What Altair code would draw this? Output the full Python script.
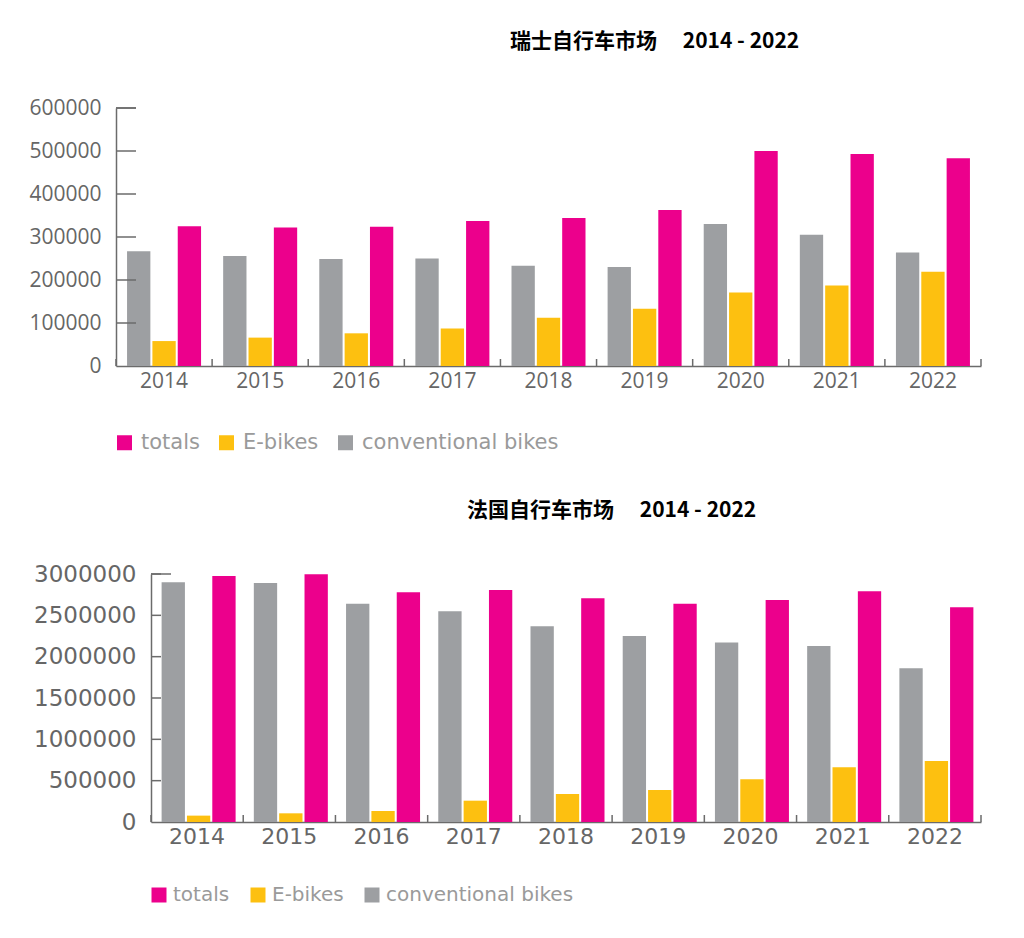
import altair as alt
import pandas as pd

# shared categories
years = ["2014", "2015", "2016", "2017", "2018", "2019", "2020", "2021", "2022"]
series = ["totals", "E-bikes", "conventional bikes"]
bar_order = ["conventional bikes", "E-bikes", "totals"]
colors = ["#EC008C", "#FDC010", "#9D9FA2"]

# Switzerland
ch_totals = [325000, 322000, 324000, 337000, 344000, 363000, 500000, 493000, 483000]
ch_ebikes = [58000, 66000, 76000, 87000, 112000, 133000, 171000, 187000, 219000]
ch_conv = [267000, 256000, 249000, 250000, 233000, 230000, 330000, 305000, 264000]
ch_ticks = [100000, 200000, 300000, 400000, 500000, 600000]

# France
fr_totals = [2976000, 2996000, 2780000, 2806000, 2706000, 2640000, 2685000, 2790000, 2597000]
fr_ebikes = [77000, 105000, 133000, 258000, 339000, 387000, 516000, 661000, 738000]
fr_conv = [2900000, 2890000, 2640000, 2550000, 2367000, 2250000, 2170000, 2129000, 1859000]
fr_ticks = [500000, 1000000, 1500000, 2000000, 2500000, 3000000]

AXIS = "#6b6b6b"
W = 865  # both panels share the same group width, the lower one starts further right


def long_df(totals, ebikes, conv):
    rows = []
    for i, y in enumerate(years):
        rows.append({"year": y, "series": "totals", "value": totals[i]})
        rows.append({"year": y, "series": "E-bikes", "value": ebikes[i]})
        rows.append({"year": y, "series": "conventional bikes", "value": conv[i]})
    return pd.DataFrame(rows)


def panel(df, title, title_dx, x0, h, ymax, yticks, tick_len, top_len, font,
          xlab_size, ylab_size, lab_pad, y_extent, leg_x, leg_y, leg_size, leg_off,
          leg_gap, title_off):
    step = (W - x0) / len(years)
    xscale = alt.Scale(type="band", paddingInner=0.23, paddingOuter=0.115, range=[x0, W])
    yscale = alt.Scale(domain=[0, ymax], nice=False)
    x_axis = alt.Axis(title=None, ticks=False, labelAngle=0, domainColor=AXIS,
                      domainWidth=1.5, labelFont=font, labelFontSize=xlab_size,
                      labelColor="#666666", labelPadding=lab_pad)
    y_axis = alt.Axis(title=None, values=[0] + yticks, ticks=False, grid=False,
                      domainColor=AXIS, domainWidth=1.5, labelFont=font,
                      labelFontSize=ylab_size, labelColor="#666666", offset=-x0,
                      labelPadding=15, minExtent=y_extent, format="d")

    bars = alt.Chart(df).mark_bar().encode(
        x=alt.X("year:N", sort=years, scale=xscale, axis=x_axis),
        xOffset=alt.XOffset("series:N", sort=bar_order,
                            scale=alt.Scale(paddingInner=0.08, paddingOuter=0)),
        y=alt.Y("value:Q", scale=yscale, axis=y_axis),
        color=alt.Color("series:N", scale=alt.Scale(domain=series, range=colors),
                        legend=alt.Legend(title=None, orient="none", legendX=leg_x,
                                          legendY=leg_y, direction="horizontal",
                                          symbolType="square", symbolSize=225,
                                          symbolStrokeWidth=0, labelFont="DejaVu Sans",
                                          labelFontSize=leg_size, labelColor="#9a9a9a",
                                          labelOffset=leg_off, columnPadding=leg_gap,
                                          labelLimit=0)),
    )

    # y ticks pointing into the plot
    tick_df = pd.DataFrame({"value": yticks})
    yt = alt.Chart(tick_df).mark_rule(color=AXIS, strokeWidth=1.5).encode(
        y=alt.Y("value:Q", scale=yscale, axis=y_axis),
        x=alt.value(x0), x2=alt.value(x0 + tick_len))
    yt_top = alt.Chart(tick_df).transform_filter(
        alt.datum.value == ymax).mark_rule(color=AXIS, strokeWidth=1.5).encode(
        y=alt.Y("value:Q", scale=yscale, axis=y_axis),
        x=alt.value(x0), x2=alt.value(x0 + top_len))

    # x ticks between year groups, pointing up
    year_df = pd.DataFrame({"year": years})
    xt = alt.Chart(year_df).mark_rule(color=AXIS, strokeWidth=1.5, xOffset=-step / 2).encode(
        x=alt.X("year:N", sort=years, scale=xscale, axis=x_axis),
        y=alt.value(h), y2=alt.value(h - 7))
    xt_end = alt.Chart(year_df).transform_filter(
        alt.datum.year == years[-1]).mark_rule(
        color=AXIS, strokeWidth=1.5, xOffset=step / 2).encode(
        x=alt.X("year:N", sort=years, scale=xscale, axis=x_axis),
        y=alt.value(h), y2=alt.value(h - 7))

    return alt.layer(bars, yt, yt_top, xt, xt_end).properties(
        width=W, height=h,
        title=alt.TitleParams(title, anchor="start", frame="group", dx=title_dx,
                              font="Noto Sans CJK SC", fontSize=21, fontWeight="bold",
                              color="#000000", offset=title_off),
    )


top = panel(long_df(ch_totals, ch_ebikes, ch_conv), "瑞士自行车市场\u3000 2014 - 2022",
            394, 0, 258, 600000, ch_ticks, 20, 20, "Open Sans",
            21, 21, 4, 103, -2, 324, 21, 6, 16, 45)
bottom = panel(long_df(fr_totals, fr_ebikes, fr_conv), "法国自行车市场\u3000 2014 - 2022",
               351, 35, 248, 3000000, fr_ticks, 10, 20, "DejaVu Sans",
               22, 23, 4, 0, 33, 311, 20, 4, 18, 42)

chart = alt.vconcat(top, bottom, spacing=47).resolve_legend(
    color="independent"
).resolve_scale(
    color="independent"
).properties(
    padding={"left": 5, "top": 23, "right": 5, "bottom": 5}
).configure_view(stroke=None)

chart.save("out.html", embed_options={"renderer": "svg", "actions": False})
